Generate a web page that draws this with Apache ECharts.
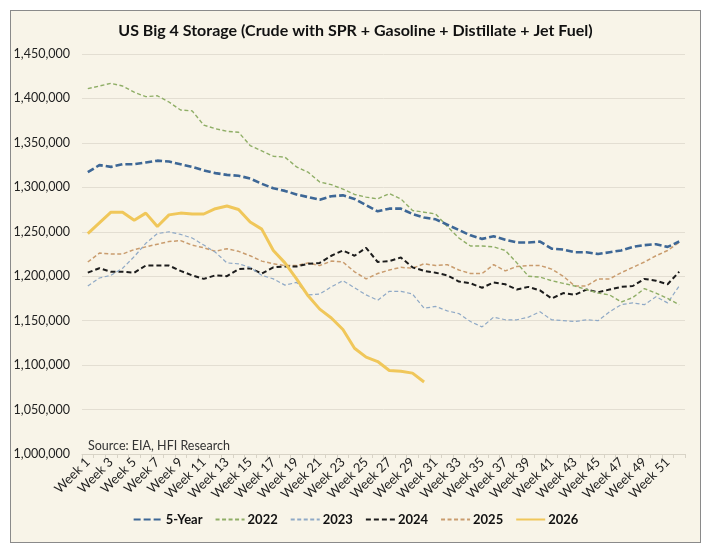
<!DOCTYPE html>
<html>
<head>
<meta charset="utf-8">
<script src="https://cdn.jsdelivr.net/npm/echarts@6/dist/echarts.min.js"></script>
<style>
  html, body { margin: 0; padding: 0; background: #ffffff; }
  #frame { position: absolute; left: 10px; top: 10px; width: 689px; height: 531px;
           border: 1.5px solid #8a8a8a; background: #f8f4e8; }
  #main { position: absolute; left: 0; top: 0; width: 711px; height: 553px; }
</style>
</head>
<body>
<div id="frame"></div>
<div id="main"></div>
<script>
  // weekly total stocks, thousand barrels
  var weeks = [];
  for (var i = 1; i <= 52; i++) weeks.push('Week ' + i);

  var fiveYear = [1317,1325,1323,1326,1326,1328,1330,1329,1326,1323,1319,1316,1314,1313,1310,1304,
    1299,1296,1292,1289,1286,1290,1291,1287,1280,1273,1276,1276,1270,1266,1264,1258,1252,1246,1242,
    1245,1241,1238,1238,1239,1231,1230,1227,1227,1225,1227,1229,1233,1235,1236,1233,1239];
  var y2022 = [1411,1414,1417,1414,1407,1402,1403,1396,1387,1386,1370,1366,1363,1362,1347,1341,
    1335,1334,1323,1317,1306,1303,1298,1292,1289,1287,1293,1287,1274,1272,1270,1256,1243,1234,1234,
    1233,1229,1215,1200,1199,1195,1192,1189,1185,1181,1179,1171,1176,1186,1181,1175,1168];
  var y2023 = [1189,1198,1201,1209,1222,1237,1248,1250,1247,1243,1235,1227,1215,1214,1210,1201,
    1197,1190,1193,1179,1180,1188,1195,1187,1179,1173,1183,1183,1180,1164,1166,1161,1158,1149,1143,
    1154,1151,1151,1154,1160,1151,1150,1149,1151,1150,1160,1168,1170,1168,1177,1170,1189];
  var y2024 = [1204,1209,1205,1205,1204,1212,1212,1212,1206,1201,1197,1201,1200,1208,1209,1203,
    1210,1211,1211,1214,1215,1223,1229,1223,1232,1216,1217,1221,1210,1206,1204,1201,1194,1192,1187,
    1193,1191,1185,1188,1184,1175,1181,1179,1185,1182,1185,1188,1189,1197,1195,1191,1205];
  var y2025 = [1216,1226,1225,1225,1230,1233,1236,1239,1240,1235,1232,1228,1231,1228,1223,1217,
    1214,1212,1212,1215,1212,1217,1216,1205,1197,1203,1207,1210,1209,1214,1212,1213,1207,1203,1203,
    1213,1206,1211,1212,1212,1208,1200,1189,1189,1197,1197,1204,1210,1216,1223,1229,1238];
  var y2026 = [1248,1260,1272,1272,1263,1271,1256,1269,1271,1270,1270,1276,1279,1275,1261,1253,
    1229,1215,1197,1178,1163,1153,1140,1119,1109,1104,1094,1093,1091,1081];

  var names = ['5-Year', '2022', '2023', '2024', '2025', '2026'];
  var colors = ['#3d6796', '#8fae66', '#8fa9c6', '#1c1c1c', '#c99c6e', '#f0c75a'];
  var widths = [2.6, 1.4, 1.2, 2, 1.5, 3];
  var dashes = [[7, 3], [4, 2.5], [4, 2.5], [5, 3], [4, 2.5], 'solid'];
  var values = [fiveYear, y2022, y2023, y2024, y2025, y2026];

  function k(arr) { return arr.map(function (v) { return v * 1000; }); }

  var series = [];
  for (var s = 0; s < names.length; s++) {
    series.push({
      name: names[s],
      type: 'line',
      data: k(values[s]),
      symbol: 'none',
      smooth: false,
      z: s == 5 ? 10 : 5 - s,
      lineStyle: { color: colors[s], width: widths[s], type: dashes[s] },
      itemStyle: { color: colors[s] }
    });
  }

  var myChart = echarts.init(document.getElementById('main'), null, { renderer: 'canvas' });
  myChart.setOption({
    backgroundColor: 'transparent',
    animation: false,
    textStyle: { fontFamily: 'Lato' },
    title: [{
      text: 'US Big 4 Storage (Crude with SPR + Gasoline + Distillate + Jet Fuel)',
      left: 'center',
      top: 18,
      textStyle: { fontSize: 16, fontWeight: 'bold', color: '#111', fontFamily: 'Lato' }
    }, {
      text: 'Source: EIA, HFI Research',
      left: 83,
      top: 434,
      textStyle: { fontSize: 12.5, fontWeight: 'normal', color: '#333', fontFamily: 'Lato' }
    }],
    legend: {
      data: names,
      bottom: 22,
      left: 'center',
      itemWidth: 29,
      itemHeight: 10,
      itemGap: 12,
      itemStyle: { opacity: 0 },
      textStyle: { fontSize: 13, fontWeight: 'bold', color: '#111', padding: [0, 0, 0, -2] }
    },
    grid: { left: 82, right: 26, top: 54, bottom: 99 },
    xAxis: {
      type: 'category',
      data: weeks,
      boundaryGap: true,
      axisLine: { lineStyle: { color: '#d8d3c6' } },
      axisTick: { show: true, interval: 0, length: 4, lineStyle: { color: '#d8d3c6' } },
      axisLabel: { interval: 1, rotate: 45, fontSize: 13, color: '#222', margin: 6 }
    },
    yAxis: {
      type: 'value',
      min: 1000000,
      max: 1450000,
      interval: 50000,
      axisLine: { show: false },
      axisTick: { show: false },
      splitLine: { lineStyle: { color: '#e3ded2', width: 1 } },
      axisLabel: {
        fontSize: 12.5, color: '#222', margin: 12,
        formatter: function (v) { return v.toLocaleString('en-US'); }
      }
    },
    series: series
  });
</script>
</body>
</html>
